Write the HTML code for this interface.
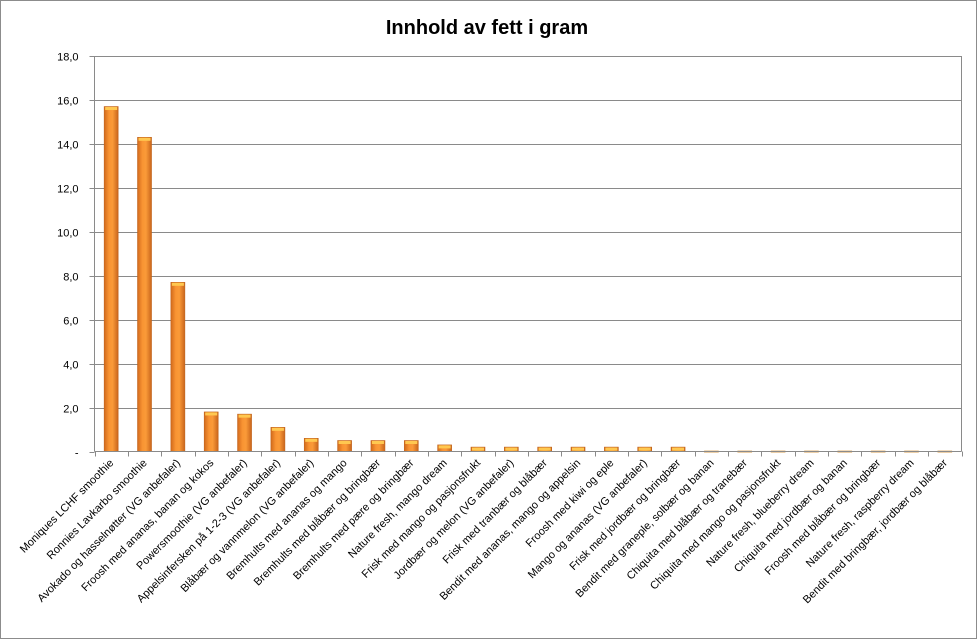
<!DOCTYPE html>
<html><head><meta charset="utf-8"><style>
html,body{margin:0;padding:0;background:#fff}
svg{display:block;font-family:"Liberation Sans",Arial,sans-serif}
</style></head><body>
<svg id="c" width="977" height="639">
<defs>
<linearGradient id="bg" x1="0" x2="1" y1="0" y2="0">
<stop offset="0" stop-color="#d26a1c"/><stop offset="0.35" stop-color="#f99433"/><stop offset="0.6" stop-color="#fa9a38"/><stop offset="1" stop-color="#c9651c"/>
</linearGradient>
<linearGradient id="bl" x1="0" x2="1" y1="0" y2="0">
<stop offset="0" stop-color="#e8b87a"/><stop offset="0.5" stop-color="#f8d79a"/><stop offset="1" stop-color="#e0ae70"/>
</linearGradient>
</defs>
<rect x="0.5" y="0.5" width="976" height="638" fill="#fff" stroke="#8c8c8c"/>
<text x="487" y="34" text-anchor="middle" font-size="20" font-weight="bold" fill="#000">Innhold av fett i gram</text>
<g id="plot"></g>
</svg>
<script>
const categories=["Moniques LCHF smoothie","Ronnies Lavkarbo smoothie","Avokado og hasselnøtter (VG anbefaler)","Froosh med ananas, banan og kokos","Powersmoothie (VG anbefaler)","Appelsinfersken på 1-2-3 (VG anbefaler)","Blåbær og vannmelon (VG anbefaler)","Bremhults med ananas og mango","Bremhults med blåbær og bringbær","Bremhults med pære og bringbær","Nature fresh, mango dream","Frisk med mango og pasjonsfrukt","Jordbær og melon (VG anbefaler)","Frisk med tranbær og blåbær","Bendit med ananas, mango og appelsin","Froosh med kiwi og eple","Mango og ananas (VG anbefaler)","Frisk med jordbær og bringbær","Bendit med graneple, solbær og banan","Chiquita med blåbær og tranebær","Chiquita med mango og pasjonsfrukt","Nature fresh, blueberry dream","Chiquita med jordbær og banan","Froosh med blåbær og bringbær","Nature fresh, raspberry dream","Bendit med bringbær, jordbær og blåbær"];
const values=[15.7,14.3,7.7,1.8,1.7,1.1,0.6,0.5,0.5,0.5,0.3,0.2,0.2,0.2,0.2,0.2,0.2,0.2,0.03,0.03,0.03,0.03,0.03,0.03,0.03,0.03];
const yTicks=[0,2,4,6,8,10,12,14,16,18];
const yTickLabels=["-","2,0","4,0","6,0","8,0","10,0","12,0","14,0","16,0","18,0"];
const NS="http://www.w3.org/2000/svg";
const g=document.getElementById('plot');
const x0=94.5,x1=961.5,yTop=56,yBot=451.5,yMax=18;
const n=categories.length;
const bw=(x1-x0)/n;
const ys=v=>yBot-(v/yMax)*(yBot-yTop);
const xs=i=>x0+bw*i;
function mk(t,a){const e=document.createElementNS(NS,t);for(const k in a)e.setAttribute(k,a[k]);g.appendChild(e);return e;}
yTicks.forEach((t,i)=>{
 const y=Math.round(ys(t))+0.5;
 if(t>0){const l=mk('line',{x1:x0,x2:x1,y1:y,y2:y,stroke:'#8a8a8a','stroke-width':1});
 }
 const tk=mk('line',{x1:x0-5,x2:x0,y1:y,y2:y,stroke:'#8a8a8a'});
 
 const tx=mk('text',{x:x0-16,y:y+4,'text-anchor':'end','font-size':11,fill:'#000'});
 tx.textContent=yTickLabels[i];
 
});
const ya=mk('line',{x1:x0,x2:x0,y1:yTop,y2:yBot,stroke:'#8a8a8a'});

const ra=mk('line',{x1:x1,x2:x1,y1:yTop,y2:yBot,stroke:'#8a8a8a'});

values.forEach((v,i)=>{
 const cx=xs(i)+bw/2, w=14;
 const y=ys(v), h=yBot-y;
 const r=mk('rect',{x:cx-w/2,y:y,width:w,height:Math.max(h,1.5),fill:v<0.1?'url(#bl)':'url(#bg)',stroke:v<0.1?'#e0b070':'#c0641e','stroke-width':0.6});
 
 if(h>3){const c=mk('rect',{x:cx-w/2+1,y:y+0.5,width:w-2,height:3,fill:'#ffc850'});
 }
 const tx=mk('text',{x:0,y:0,'text-anchor':'end','font-size':11,fill:'#000',transform:`translate(${cx+3},${yBot+12}) rotate(-45)`});
 tx.textContent=categories[i];
 
});
for(let i=0;i<=n;i++){
 const x=Math.round(xs(i))+0.5;
 const t=mk('line',{x1:x,x2:x,y1:yBot,y2:yBot+5,stroke:'#8a8a8a'});
 
}
const xa=mk('line',{x1:x0,x2:x1,y1:yBot,y2:yBot,stroke:'#8a8a8a'});

</script>
</body></html>
